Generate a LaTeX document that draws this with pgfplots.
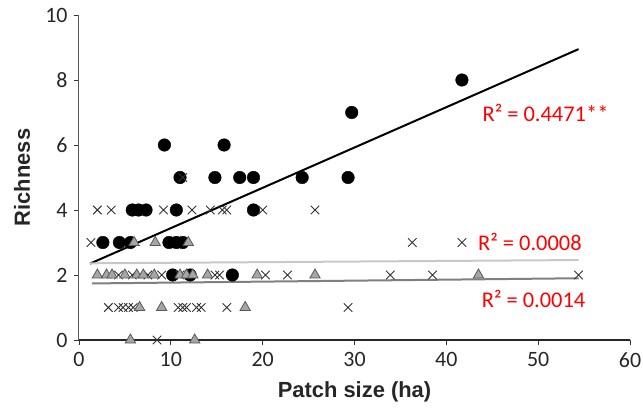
\documentclass[border=0pt]{standalone}
\usepackage{pgfplots}
\pgfplotsset{compat=1.18}
\usepackage{fontspec}
\setmainfont{Carlito}
\newfontfamily\labelfont{Liberation Sans}
\definecolor{rtext}{HTML}{FF0000}
\definecolor{trigray}{HTML}{A6A6A6}
\definecolor{triedge}{HTML}{595959}
\definecolor{lightline}{HTML}{C8C8C8}
\definecolor{darkline}{HTML}{808080}
\begin{document}
\begin{tikzpicture}
\begin{axis}[
  scale only axis,
  width=551bp, height=325bp,
  at={(0,0)}, anchor=south west,
  xmin=0, xmax=60, ymin=0, ymax=10,
  xtick={0,10,...,60}, ytick={0,2,...,10},
  axis x line*=bottom, axis y line*=left,
  x axis line style={black!85, line width=1.1bp, -},
  y axis line style={black!65, line width=1bp, -},
  tick align=outside, major tick length=5bp,
  every tick/.style={black!80, line width=0.9bp},
  tick label style={font=\fontsize{22}{24}\selectfont, black!85},
  /pgf/number format/assume math mode=true,
  xticklabel style={yshift=-4bp},
  yticklabel style={xshift=-3bp},
  xlabel={Patch size (ha)}, ylabel={Richness},
  xlabel style={font=\labelfont\bfseries\fontsize{22}{24}\selectfont, at={(axis description cs:0.5,-0.16)}, anchor=center, black!85},
  ylabel style={font=\labelfont\bfseries\fontsize{22}{24}\selectfont, at={(axis description cs:-0.1034,0.5)}, anchor=center, rotate=0, black!85},
  clip=false,
]
% circles
\addplot[only marks, mark=*, mark size=6.3bp, mark options={fill=black, draw=black}] coordinates {
(41.7,8) (29.7,7) (9.3,6) (15.8,6)
(11.0,5) (14.8,5) (17.5,5) (19.0,5) (24.3,5) (29.3,5)
(5.8,4) (6.5,4) (7.3,4) (10.6,4) (19.0,4)
(2.6,3) (4.4,3) (5.6,3) (9.8,3) (10.6,3) (11.3,3)
(10.2,2) (12.1,2) (16.7,2)
};
% crosses
\addplot[only marks, mark=x, mark size=6bp, mark options={draw=black!80, line width=0.9bp}] coordinates {
(11.3,5)
(2.0,4) (3.5,4) (9.2,4) (12.3,4) (14.3,4) (15.6,4) (16.1,4) (20.0,4) (25.7,4)
(1.3,3) (36.3,3) (41.7,3)
(4.3,2) (5.8,2) (7.5,2) (9.0,2) (11.0,2) (14.8,2) (15.3,2) (20.3,2) (22.7,2) (33.9,2) (38.5,2) (54.4,2)
(3.2,1) (4.3,1) (4.8,1) (5.4,1) (5.9,1) (10.8,1) (11.3,1) (11.7,1) (12.8,1) (13.3,1) (16.1,1) (29.3,1)
(8.5,0)
};
% triangles
\addplot[only marks, mark=triangle*, mark size=6bp, mark options={fill=trigray, draw=triedge, line width=0.8bp}] coordinates {
(6.0,3) (8.3,3) (11.9,3)
(2.0,2) (3.0,2) (3.6,2) (5.0,2) (6.3,2) (7.0,2) (8.2,2) (11.0,2) (11.7,2) (12.4,2) (14.0,2) (19.4,2) (25.7,2) (43.5,2)
(6.6,1) (9.0,1) (18.1,1)
(5.6,0) (12.6,0)
};
% trend lines
\addplot[black, line width=2bp] coordinates {(1.2,2.35) (54.4,8.95)};
\addplot[lightline, line width=2bp] coordinates {(1.2,2.36) (54.4,2.46)};
\addplot[darkline, line width=2bp] coordinates {(1.4,1.74) (54.4,1.90)};
\node[text=rtext, font=\fontsize{22.5}{24}\selectfont] at (axis cs:50.8,6.98) {R² = 0.4471**};
\node[text=rtext, font=\fontsize{22.5}{24}\selectfont] at (axis cs:49.1,3.02) {R² = 0.0008};
\node[text=rtext, font=\fontsize{22.5}{24}\selectfont] at (axis cs:49.5,1.26) {R² = 0.0014};
\end{axis}
\pgfresetboundingbox
\path (-79bp,-70bp) rectangle (564bp,340bp);
\end{tikzpicture}
\end{document}
